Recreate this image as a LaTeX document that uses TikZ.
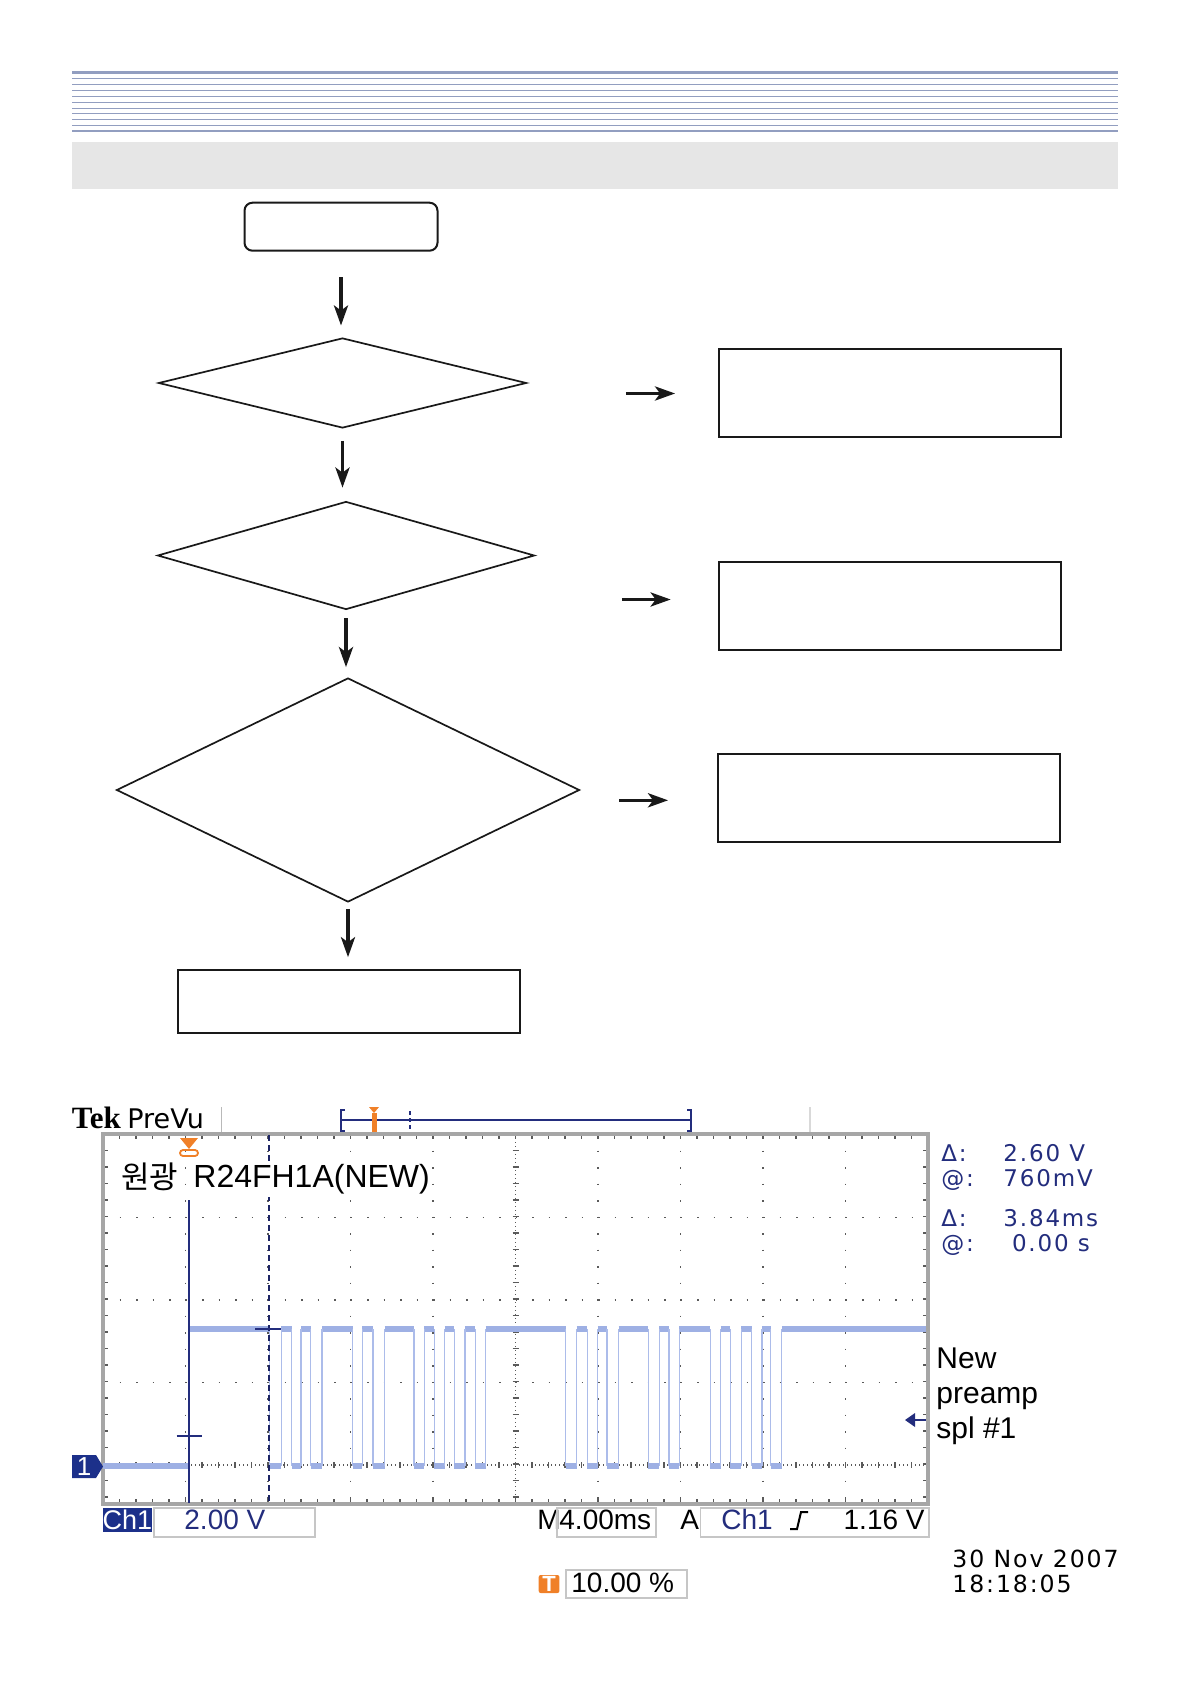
\documentclass[tikz,border=0pt]{standalone}
\usepackage{fontspec}
\setmainfont{Liberation Sans}
\newfontfamily\krfont{Noto Sans CJK KR}
\newfontfamily\tekmono{DejaVu Sans Mono}
\newfontfamily\tekserif{Liberation Serif}
\newfontfamily\teksans{DejaVu Sans}
\newfontfamily\tekread{DejaVu Sans}[LetterSpace=8]
\definecolor{hdrline}{RGB}{146,158,192}
\definecolor{bandgray}{RGB}{230,230,230}
\definecolor{scnavy}{RGB}{35,45,125}
\definecolor{chnavy}{RGB}{28,48,138}
\definecolor{sigblue}{RGB}{158,176,228}
\definecolor{sigedge}{RGB}{172,188,234}
\definecolor{tekorange}{RGB}{240,128,40}
\definecolor{gratgray}{RGB}{90,90,90}
\usetikzlibrary{arrows.meta, positioning, shapes.geometric, calc}
\tikzset{
	startbox/.style={rectangle, rounded corners=4pt, draw=black!90, line width=1pt, minimum width=96.5pt, minimum height=24pt, inner sep=0pt},
	decide/.style={diamond, draw=black!90, line width=0.85pt, inner sep=0pt},
	procbox/.style={rectangle, draw=black!90, line width=1pt, minimum width=171pt, minimum height=44pt, inner sep=0pt},
	arrow/.style={-{Stealth[length=10pt, width=7pt, inset=2.5pt]}, line width=1.8pt, draw=black!90},
	gratdot/.style={draw=gratgray, line width=0.9pt, dash pattern=on 0.9pt off 7.35pt},
	gratfine/.style={draw=gratgray, line width=0.7pt, dash pattern=on 0.7pt off 1.3pt},
	sigline/.style={draw=sigedge, line width=0.6pt},
	sigband/.style={draw=sigblue, line width=3pt},
	readout/.style={font=\tekread\fontsize{11.5}{12}\selectfont, text=scnavy, inner sep=0pt, anchor=base west},
	botlbl/.style={font=\fontsize{14}{15}\selectfont, inner sep=0pt, anchor=base west},
	lblbox/.style={draw=gray!45, line width=0.8pt},
}
\begin{document}
\begin{tikzpicture}[x=0.5pt, y=-0.5pt]
		\useasboundingbox (0,0) rectangle (1190,1684);
		% page header
		\foreach \hy in {78.3,84.3,90.3,96.3,102.3,108.3,113.3,119.3,125.3}
			\draw[hdrline, line width=0.6pt] (72,\hy) -- (1118,\hy);
		\draw[hdrline, line width=1.3pt] (72,72.7) -- (1118,72.7);
		\draw[hdrline, line width=1.3pt] (72,131) -- (1118,131);
		\fill[bandgray] (72,142) rectangle (1118,188.7);
		% flow chart
		\node[startbox] (start) at (341,226.7) {};
		\node[decide, minimum width=184pt, minimum height=45pt] (dec1) at (342.5,383) {};
		\node[decide, minimum width=188.5pt, minimum height=54pt] (dec2) at (346,555.5) {};
		\node[decide, minimum width=231.5pt, minimum height=112pt] (dec3) at (348,790) {};
		\node[procbox, minimum height=31.5pt] (finish) at (349,1001.7) {};
		\node[procbox] (chk1) at (890.3,393.5) {};
		\node[procbox, below=61.2pt of chk1] (chk2) {};
		\node[procbox, below=51.2pt of chk2, xshift=-0.5pt] (chk3) {};
		\draw[arrow, shorten <=12.7pt, shorten >=5.8pt] (start.south) -- (start.south |- dec1.north);
		\draw[arrow, shorten <=6pt, shorten >=6.5pt] (dec1.south) -- (dec1.south |- dec2.north);
		\draw[arrow, shorten <=4pt, shorten >=5pt] (dec2.south) -- (dec2.south |- dec3.north);
		\draw[arrow, shorten <=3pt, shorten >=6pt] (dec3.south) -- (dec3.south |- finish.north);
		\coordinate (r1end) at (chk1.west);
		\coordinate (r2end) at ([yshift=3.2pt]chk2.west);
		\coordinate (r3end) at ([yshift=-1pt]chk3.west);
		\draw[arrow, shorten <=49.3pt, shorten >=21.6pt] (r1end -| dec1.east) -- (r1end);
		\draw[arrow, shorten <=43.2pt, shorten >=23.8pt] (r2end -| dec2.east) -- (r2end);
		\draw[arrow, shorten <=19.4pt, shorten >=24.6pt] (r3end -| dec3.east) -- (r3end);
		% scope status bar
		\node[font=\tekserif\bfseries\fontsize{15.5}{16}\selectfont, inner sep=0pt, anchor=base west] (teklogo) at (71.5,1128) {Tek};
		\node[font=\teksans\fontsize{13.5}{14}\selectfont, inner sep=0pt, anchor=base west] (prevu) at (127,1128) {PreVu};
		\draw[gray!55, line width=0.8pt] (221.5,1107) -- (221.5,1133);
		\draw[gray!30, line width=0.8pt] (810,1107) -- (810,1133);
		\draw[scnavy, line width=0.9pt] (345,1110) -- (341,1110) -- (341,1131) -- (345,1131);
		\draw[scnavy, line width=0.9pt] (341,1120) -- (691,1120);
		\draw[scnavy, line width=0.9pt] (687,1110) -- (691,1110) -- (691,1131) -- (687,1131);
		\draw[scnavy, line width=0.8pt, dash pattern=on 2pt off 1.5pt] (410,1111) -- (410,1131);
		\fill[tekorange] (369,1107) -- (379,1107) -- (374,1113) -- cycle;
		\fill[tekorange] (371.5,1113) rectangle (376.5,1133);
		% graticule
		\foreach \gx in {185.5,268,350.5,433,598,680.5,763,845.5}
			\draw[gratdot] (\gx,1134) -- (\gx,1504);
		\foreach \gy in {1217.5,1300,1382.5}
			\draw[gratdot] (103,\gy) -- (928,\gy);
		\draw[gratfine] (515.5,1134) -- (515.5,1504);
		\draw[gratfine] (103,1465) -- (928,1465);
		\foreach \k in {1,...,49} {
			\draw[gratgray, line width=0.6pt] ({103+16.5*\k},1134) -- ({103+16.5*\k},1139);
			\draw[gratgray, line width=0.6pt] ({103+16.5*\k},1504) -- ({103+16.5*\k},1499);
			\draw[gratgray, line width=0.6pt] ({103+16.5*\k},1462) -- ({103+16.5*\k},1468);
		}
		\foreach \k in {1,...,22} {
			\draw[gratgray, line width=0.6pt] (103,{1134+16.5*\k}) -- (108,{1134+16.5*\k});
			\draw[gratgray, line width=0.6pt] (928,{1134+16.5*\k}) -- (923,{1134+16.5*\k});
			\draw[gratgray, line width=0.6pt] (512.5,{1134+16.5*\k}) -- (518.5,{1134+16.5*\k});
		}
		\draw[gray!70, line width=1.6pt] (103,1134) rectangle (928,1504);
		% waveform
		\foreach \a/\b [remember=\b as \prev (initially 103)] in {189.4/269.7, 281.2/291.5, 301/310.7, 322/352.8, 362.3/373, 384.5/414, 424.3/434.3, 444.6/454.2, 464.9/475.2, 485.6/565.7, 576.5/587.2, 597.5/607, 618.7/648.2, 659.2/668.9, 679.2/710.2, 720.5/730.2, 741.2/751.5, 761.9/770.5} {
			\draw[sigband] (\prev,1466) -- (\a,1466);
			\draw[sigband] (\a,1329) -- (\b,1329);
			\draw[sigline] (\a,1466) -- (\a,1329);
			\draw[sigline] (\b,1329) -- (\b,1466);
		}
		\draw[sigband] (770.5,1466) -- (781.8,1466);
		\draw[sigband] (781.8,1329) -- (926,1329);
		\draw[sigline] (781.8,1466) -- (781.8,1329);
		% cursors and markers
		\draw[scnavy, line width=1pt] (189.4,1200) -- (189.4,1503);
		\draw[scnavy, line width=0.9pt] (176.7,1436) -- (201.6,1436);
		\draw[scnavy!80!black, line width=1pt, dash pattern=on 3pt off 2pt] (268.6,1135) -- (268.6,1503);
		\draw[scnavy, line width=0.9pt] (255,1329) -- (281,1329);
		\fill[tekorange] (180,1138) -- (198,1138) -- (189,1149) -- cycle;
		\draw[tekorange, line width=0.9pt, rounded corners=1.5pt] (180,1150) rectangle (198,1156);
		\fill[chnavy] (72,1455) -- (96,1455) -- (103,1466.5) -- (96,1478) -- (72,1478) -- cycle;
		\node[font=\fontsize{13}{13}\selectfont, text=white, inner sep=0pt] (gndlbl) at (84,1467) {1};
		\draw[scnavy, line width=1.2pt] (913,1420) -- (926,1420);
		\fill[scnavy] (905,1420) -- (915,1413) -- (915,1427) -- cycle;
		\node[font=\krfont\fontsize{15.5}{16}\selectfont, inner sep=0pt, anchor=base west] (krtitle) at (121,1188) {원광};
		\node[font=\fontsize{16}{17}\selectfont, fill=white, inner xsep=0pt, inner ysep=1.5pt, anchor=base west] (modeltitle) at (193,1187) {R24FH1A(NEW)};
		% cursor readouts
		\node[readout] (dvsym) at (941,1161) {Δ:};
		\node[readout] (dvval) at (1003,1161) {2.60 V};
		\node[readout] (avsym) at (941,1186) {@:};
		\node[readout] (avval) at (1003,1186) {760mV};
		\node[readout] (dtsym) at (941,1226) {Δ:};
		\node[readout] (dtval) at (1003,1226) {3.84ms};
		\node[readout] (atsym) at (941,1251) {@:};
		\node[readout] (atval) at (1011.6,1251) {0.00 s};
		\node[font=\fontsize{15}{17.5}\selectfont, align=left, inner sep=0pt, anchor=north west] (probelbl) at (936,1347) {New\\preamp\\spl \#1};
		% bottom settings
		\fill[chnavy] (103,1508) rectangle (151.6,1532);
		\node[botlbl, anchor=base, font=\fontsize{13.5}{14}\selectfont, text=white] (chlbl) at (127.3,1529) {Ch1};
		\draw[lblbox] (154,1508) rectangle (315,1537);
		\node[botlbl, text=scnavy] (voltdiv) at (184,1529) {2.00 V};
		\node[botlbl] (mlbl) at (537,1529) {M};
		\draw[lblbox] (557,1508) rectangle (656,1537);
		\node[botlbl] (timediv) at (559,1529) {4.00ms};
		\node[botlbl] (albl) at (680,1529) {A};
		\draw[lblbox] (700.6,1508) rectangle (929,1537);
		\node[botlbl, text=scnavy] (trigch) at (721,1529) {Ch1};
		\draw[black, line width=1pt] (790,1529) -- (797,1529) -- (801,1512) -- (808,1512);
		\node[botlbl, anchor=base east] (triglvl) at (925,1529) {1.16 V};
		\fill[tekorange, rounded corners=1pt] (538.7,1575) rectangle (559.4,1593);
		\node[font=\bfseries\fontsize{11}{11}\selectfont, text=white, inner sep=0pt] (tmark) at (549,1584) {T};
		\draw[lblbox] (566,1570) rectangle (687,1598);
		\node[botlbl] (trigpos) at (571,1592) {10.00 \%};
		\node[font=\tekread\fontsize{11.8}{12}\selectfont, inner sep=0pt, anchor=base west] (datelbl) at (952,1567) {30 Nov 2007};
		\node[font=\tekread\fontsize{11.8}{12}\selectfont, inner sep=0pt, anchor=base west] (timelbl) at (952,1592) {18:18:05};
	\end{tikzpicture}
\end{document}
